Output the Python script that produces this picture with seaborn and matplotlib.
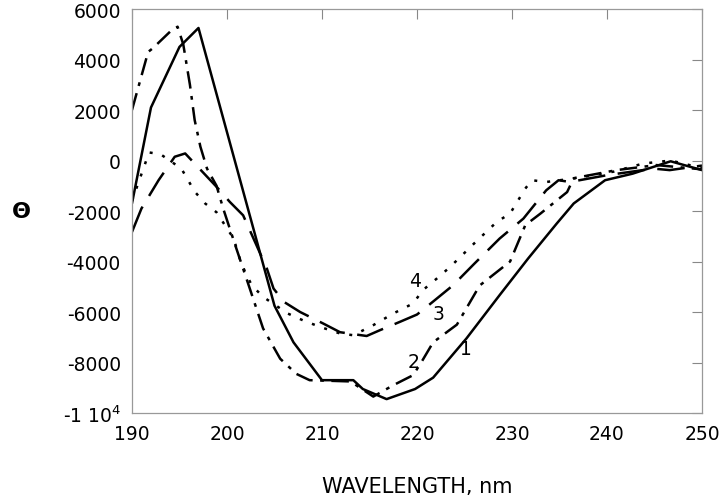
import matplotlib
matplotlib.use('Agg')
import matplotlib.pyplot as plt
import seaborn as sns

# wavelength (nm) and ellipticity
wl_1 = [190, 192, 195, 197, 205, 207, 210, 213.3, 214.3, 216.8, 219.8, 221.7,
        225.2, 228.7, 231.7, 234.7, 236.5, 239.8, 242.7, 246.7, 250]
theta_1 = [-1700, 2100, 4500, 5250, -5750, -7200, -8700, -8700, -9050, -9450, -9050, -8600,
           -7050, -5330, -3880, -2500, -1700, -780, -520, -30, -380]

wl_2 = [190, 191.7, 192.2, 194, 194.8, 195.4, 196.1, 196.6, 197.2, 197.9, 198.9, 199.6,
        201, 202.4, 203.8, 205.6, 207.3, 208.7, 213, 215.4, 217.5, 219.6, 220.6, 221.7,
        224.2, 226.6, 229.8, 231.4, 233, 235.8, 236.5, 241, 245.2, 250]
theta_2 = [2000, 4300, 4450, 5100, 5300, 4600, 3000, 1600, 550, -320, -1000, -1900,
           -3500, -5070, -6650, -7850, -8450, -8700, -8750, -9350, -8900, -8500, -7900, -7200,
           -6500, -4950, -4000, -2560, -2100, -1250, -700, -380, -180, -350]

wl_3 = [190, 191, 192.8, 194.5, 195.6, 198.9, 200.3, 201.7, 203.1, 204.2, 204.9, 206,
        207.7, 210.1, 211.9, 214.7, 216.1, 218.2, 220, 221, 223.8, 226, 228.7, 231.2,
        233.6, 234.9, 236.1, 240, 244.9, 246.6, 250]
theta_3 = [-2830, -1900, -780, 150, 280, -1040, -1640, -2170, -3350, -4280, -5070, -5600,
           -6000, -6450, -6800, -6950, -6720, -6390, -6100, -5800, -4940, -4100, -3090, -2300,
           -1180, -780, -850, -580, -320, -380, -200]

wl_4 = [190, 191.8, 193, 195.2, 196.6, 197.7, 198.9, 200.7, 201.5, 202.6, 203.8, 206.4,
        208, 209.8, 211.9, 213.3, 215.4, 217.5, 219.6, 220.6, 222.1, 223.5, 226, 228.4,
        229.8, 231.4, 232.1, 233.6, 236.5, 240.7, 243.8, 246.7, 250]
theta_4 = [-1600, 320, 250, -320, -1230, -1700, -2050, -3090, -4080, -4940, -5400, -6060,
           -6330, -6590, -6850, -6920, -6520, -6060, -5660, -5140, -4670, -4210, -3290, -2430,
           -2100, -1110, -780, -850, -710, -440, -120, 0, -300]

curve_labels = ['1', '2', '3', '4']
label_x = [225.2, 219.6, 222.3, 219.8]
label_y = [-7450, -7970, -6060, -4740]

x_ticks = [190, 200, 210, 220, 230, 240, 250]
y_ticks = [6000, 4000, 2000, 0, -2000, -4000, -6000, -8000, -10000]
y_ticklabels = ['6000', '4000', '2000', '0', '-2000', '-4000', '-6000', '-8000', r'-1 10$^4$']

sns.set_style('white')
plt.rcParams['font.family'] = ['DejaVu Sans']
plt.rcParams['text.color'] = 'black'
plt.rcParams['axes.labelcolor'] = 'black'
plt.rcParams['xtick.labelcolor'] = 'black'
plt.rcParams['ytick.labelcolor'] = 'black'

fig = plt.figure(figsize=(7.2, 5.02), dpi=100)
ax = fig.add_axes([0.1833, 0.1753, 0.7917, 0.8047])

styles = ['-', (0, (7, 3, 1.5, 3)), (0, (11, 5)), (0, (1.2, 4))]
series = [(wl_1, theta_1), (wl_2, theta_2), (wl_3, theta_3), (wl_4, theta_4)]
for (wl, th), ls in zip(series, styles):
    sns.lineplot(x=wl, y=th, color='black', linewidth=1.8, linestyle=ls, ax=ax)

for lab, lx, ly in zip(curve_labels, label_x, label_y):
    ax.text(lx, ly, lab, fontsize=13.5, ha='center', va='center', color='black')

ax.set_xlim(190, 250)
ax.set_ylim(-10000, 6000)
ax.set_xticks(x_ticks)
ax.set_yticks(y_ticks)
ax.set_yticklabels(y_ticklabels)
ax.tick_params(direction='in', length=7, width=0.8, color='#888888',
               labelsize=13.5, top=True, right=True, pad=8)
for sp in ax.spines.values():
    sp.set_color('#999999')
    sp.set_linewidth(0.9)

ax.set_xlabel('WAVELENGTH, nm', fontsize=15, labelpad=24)
ax.set_ylabel('Θ', fontsize=16, rotation=0, fontweight='bold', labelpad=30, va='center')

fig.savefig('out.png', dpi=100)
